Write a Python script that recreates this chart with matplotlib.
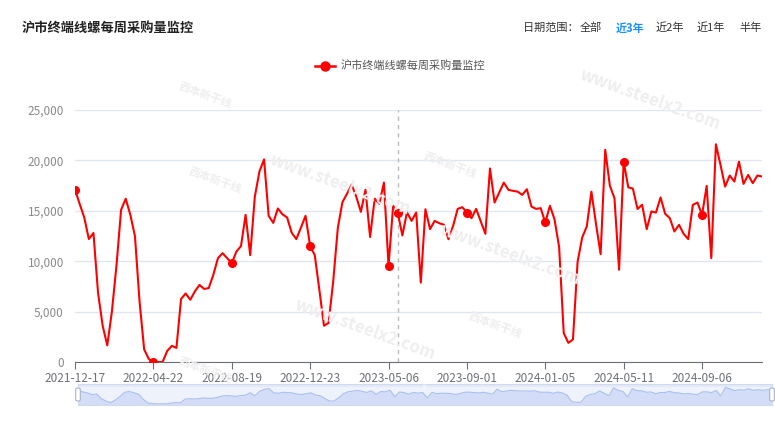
import numpy as np
import matplotlib.pyplot as plt
from matplotlib.patches import FancyBboxPatch

plt.rcParams['font.family'] = ['Noto Sans CJK SC', 'DejaVu Sans']

title = '沪市终端线螺每周采购量监控'
series_name = '沪市终端线螺每周采购量监控'

# weekly purchase volume (150 weeks)
purchase = [
    17100, 15700, 14350, 12200, 12800, 6850, 3600, 1650, 5000, 9600,
    15100, 16200, 14600, 12500, 6000, 1250, 300, 0, 0, 0,
    1100, 1600, 1400, 6250, 6800, 6180, 7000, 7650, 7250, 7330,
    8650, 10300, 10800, 10300, 9800, 10950, 11500, 14600, 10600, 16400,
    18900, 20100, 14500, 13800, 15230, 14650, 14340, 12820, 12190, 13330,
    14500, 11500, 10600, 7150, 3600, 3880, 8000, 13300, 15850, 16700,
    17600, 16400, 14900, 17080, 12400, 16200, 15700, 17800, 9540, 15500,
    14830, 12550, 14850, 14000, 14830, 7880, 15150, 13180, 14000, 13770,
    13620, 12180, 13500, 15190, 15360, 14830, 14270, 15190, 13940, 12720,
    19200, 15820, 16810, 17800, 17080, 16980, 16900, 16580, 17140, 15420,
    15190, 15260, 13840, 15500, 14150, 11400, 2860, 1900, 2240, 9920,
    12350, 13450, 16900, 13700, 10700, 21050, 17500, 16250, 9150, 19850,
    17330, 17200, 15180, 15600, 13180, 14930, 14830, 16320, 14700, 14270,
    12950, 13610, 12720, 12190, 15590, 15820, 14600, 17470, 10300, 21600,
    19550, 17400, 18500, 17900, 19880, 17670, 18560, 17740, 18500, 18400,
]
x_labels = ['2021-12-17', '2022-04-22', '2022-08-19', '2022-12-23', '2023-05-06',
            '2023-09-01', '2024-01-05', '2024-05-11', '2024-09-06']
label_step = 17
hover_idx = 70
range_options = ['全部', '近3年', '近2年', '近1年', '半年']
active_option = '近3年'

x = np.arange(len(purchase))
y = np.array(purchase)

fig = plt.figure(figsize=(7.75, 4.22), dpi=100)
W, H = 775, 422

def fx(px):
    return px / W

def fy(py):
    return 1 - py / H

# faint watermarks
wm_color = '#eeeeee'
for px, py in [(650, 100), (340, 185), (510, 255), (365, 330)]:
    fig.text(fx(px), fy(py), 'www.steelx2.com', color=wm_color, fontsize=12,
             rotation=-20, ha='center', va='center', fontstyle='italic',
             fontweight='bold', zorder=0)
for px, py in [(205, 95), (215, 180), (450, 165), (495, 325), (205, 370)]:
    fig.text(fx(px), fy(py), '西本新干线', color=wm_color, fontsize=8,
             rotation=-20, ha='center', va='center', fontweight='bold', zorder=0)

ax = fig.add_axes([fx(75), fy(362), fx(762) - fx(75), fy(110) - fy(362)])
ax.patch.set_alpha(0)

ax.plot(x, y, color='#ff0000', lw=1.5, zorder=3)
mark_idx = list(range(0, len(purchase), label_step)) + [hover_idx]
ax.plot(x[mark_idx], y[mark_idx], 'o', color='#ff0000', ms=5.5, zorder=4)
ax.axvline(hover_idx, color='#bbbbbb', lw=1, ls=(0, (3, 3)), zorder=2)

ax.set_xlim(0, len(purchase) - 1)
ax.set_ylim(0, 25000)
ax.set_yticks(np.arange(0, 25001, 5000))
ax.set_yticklabels([f'{v:,}' for v in range(0, 25001, 5000)])
ax.set_xticks(np.arange(0, len(purchase), label_step))
ax.set_xticklabels(x_labels)
ax.grid(axis='y', color='#e0e6f1', lw=1)
ax.set_axisbelow(True)
for s in ['top', 'right', 'left']:
    ax.spines[s].set_visible(False)
ax.spines['bottom'].set_color('#6e7079')
ax.tick_params(axis='y', length=0, labelcolor='#8a8a8a', labelsize=8.5, pad=8)
ax.tick_params(axis='x', length=5, color='#6e7079', labelcolor='#6e7079',
               labelsize=8.5, pad=2)

# title and date range selector
fig.text(fx(22), fy(28), title, fontsize=9.5, fontweight='bold', color='#222222',
         va='center', ha='left')
fig.text(fx(523), fy(28), '日期范围：', fontsize=8, color='#333333', va='center')
opt_x = [580, 616, 656, 697, 739]
for px, opt in zip(opt_x, range_options):
    active = opt == active_option
    fig.text(fx(px), fy(28), opt, fontsize=8, va='center',
             color='#1890ff' if active else '#333333',
             fontweight='bold' if active else 'normal')

# legend
fig.add_artist(plt.Line2D([fx(315), fx(335)], [fy(66), fy(66)], color='#ff0000', lw=1.8))
fig.add_artist(plt.Line2D([fx(325)], [fy(66)], marker='o', color='#ff0000', ms=6.5))
fig.text(fx(341), fy(66), series_name, fontsize=8, color='#555555', va='center')

# data zoom slider
sax = fig.add_axes([fx(78), fy(405), fx(772) - fx(78), fy(384) - fy(405)])
sax.set_xlim(0, len(purchase) - 1)
sax.set_ylim(-1500, 26000)
sax.fill_between(x, y, -1500, color='#d3ddf7', lw=0)
sax.plot(x, y, color='#a9bff0', lw=0.8)
sax.axhspan(22500, 26000, color='#e3e9f8', lw=0)
sax.set_xticks([])
sax.set_yticks([])
for s in sax.spines.values():
    s.set_color('#d2dbee')
sax.patch.set_facecolor('#eef2fb')
sax.text(0.5, 0.87, '|||', transform=sax.transAxes, fontsize=4, color='#ffffff',
         ha='center', va='center')
for px in [78, 772]:
    fig.add_artist(FancyBboxPatch((fx(px) - 0.003, fy(401)), 0.006, fy(388) - fy(401),
                                  boxstyle='round,pad=0,rounding_size=0.003',
                                  transform=fig.transFigure, facecolor='white',
                                  edgecolor='#aab4c8', lw=0.8))

fig.savefig('out.png', dpi=100)
